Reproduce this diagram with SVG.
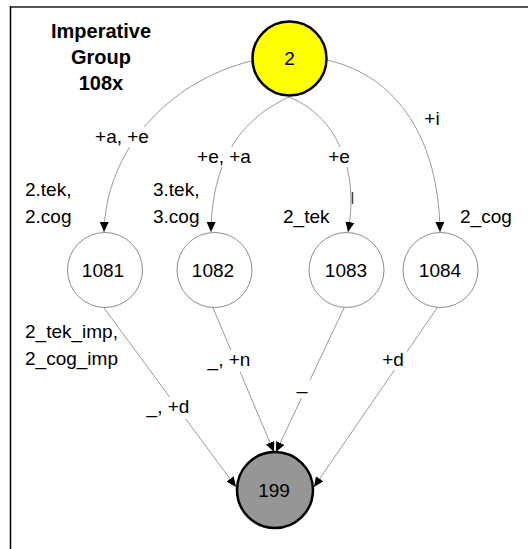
<svg xmlns="http://www.w3.org/2000/svg" width="528" height="549" viewBox="0 0 528 549">
  <defs>
    <marker id="arrow" markerUnits="userSpaceOnUse" markerWidth="11" markerHeight="10" refX="10" refY="4.5" orient="auto">
      <path d="M0,0 L10,4.5 L0,9 z" fill="#000"/>
    </marker>
    <style>
      text { font-family: "Liberation Sans", Arial, sans-serif; font-size: 19px; fill: #000; }
      .title { font-weight: bold; font-size: 20px; text-anchor: middle; }
      .mid { text-anchor: middle; }
      .edge { fill: none; stroke: #9a9a9a; stroke-width: 1; marker-end: url(#arrow); }
      .bg { fill: #fff; }
      .state { fill: #fff; stroke: #8c8c8c; stroke-width: 1; }
      .key { stroke: #000; stroke-width: 2.5; }
    </style>
  </defs>

  <rect width="528" height="549" fill="#fff"/>

  <!-- frame -->
  <line x1="10" y1="7" x2="528" y2="7" stroke="#555" stroke-width="2"/>
  <line x1="10.5" y1="6" x2="10.5" y2="549" stroke="#000" stroke-width="1.5"/>

  <!-- title -->
  <g id="title">
    <text class="title" x="101" y="38">Imperative</text>
    <text class="title" x="101" y="64">Group</text>
    <text class="title" x="101" y="90">108x</text>
  </g>

  <!-- connectors -->
  <g id="connectors">
    <path class="edge" d="M251,61 C168,82 106,150 104,232"/>
    <path class="edge" d="M289,97 C250,115 212,150 211,232"/>
    <path class="edge" d="M289,97 C335,115 360,168 348,232"/>
    <line x1="352.5" y1="192" x2="352.5" y2="204" stroke="#444" stroke-width="1.5"/>
    <path class="edge" d="M327,60 C398,76 439,140 440,232"/>

    <line class="edge" x1="104" y1="308" x2="236" y2="487"/>
    <line class="edge" x1="213" y1="308" x2="274" y2="452"/>
    <line class="edge" x1="344" y1="308" x2="276" y2="452"/>
    <line class="edge" x1="437" y1="308" x2="314" y2="487"/>

    <!-- edge labels -->
    <rect class="bg" x="91" y="127" width="62" height="20"/>
    <text class="mid" x="122" y="143">+a, +e</text>
    <rect class="bg" x="194" y="147" width="60" height="20"/>
    <text class="mid" x="224" y="163">+e, +a</text>
    <rect class="bg" x="326" y="147" width="26" height="20"/>
    <text class="mid" x="339" y="163">+e</text>
    <rect class="bg" x="420" y="109" width="24" height="20"/>
    <text class="mid" x="432" y="125">+i</text>

    <rect class="bg" x="140" y="397" width="56" height="22"/>
    <text class="mid" x="168" y="413">_, +d</text>
    <rect class="bg" x="201" y="350" width="56" height="22"/>
    <text class="mid" x="229" y="366">_, +n</text>
    <rect class="bg" x="294" y="378" width="16" height="20"/>
    <text class="mid" x="302" y="389">_</text>
    <rect class="bg" x="379" y="350" width="28" height="20"/>
    <text class="mid" x="393" y="366">+d</text>
  </g>

  <!-- state labels -->
  <g id="state-labels">
    <text x="25" y="196">2.tek,</text>
    <text x="25" y="223">2.cog</text>
    <text x="153" y="196">3.tek,</text>
    <text x="153" y="223">3.cog</text>
    <text x="283" y="223">2_tek</text>
    <text x="460" y="223">2_cog</text>
    <text x="25" y="338">2_tek_imp,</text>
    <text x="25" y="365">2_cog_imp</text>
  </g>

  <!-- nodes -->
  <g id="node-2">
    <circle class="key" cx="289.5" cy="58.5" r="37" fill="#ffff00"/>
    <text class="mid" x="289.5" y="65">2</text>
  </g>
  <g id="node-1081">
    <circle class="state" cx="105" cy="270" r="37.5"/>
    <text class="mid" x="103" y="277">1081</text>
  </g>
  <g id="node-1082">
    <circle class="state" cx="214.5" cy="270" r="37.5"/>
    <text class="mid" x="213" y="277">1082</text>
  </g>
  <g id="node-1083">
    <circle class="state" cx="346.5" cy="270" r="37.5"/>
    <text class="mid" x="346" y="277">1083</text>
  </g>
  <g id="node-1084">
    <circle class="state" cx="440.5" cy="270" r="37.5"/>
    <text class="mid" x="440" y="277">1084</text>
  </g>
  <g id="node-199">
    <circle class="key" cx="275" cy="490" r="38" fill="#969696"/>
    <text class="mid" x="274" y="497">199</text>
  </g>
</svg>
